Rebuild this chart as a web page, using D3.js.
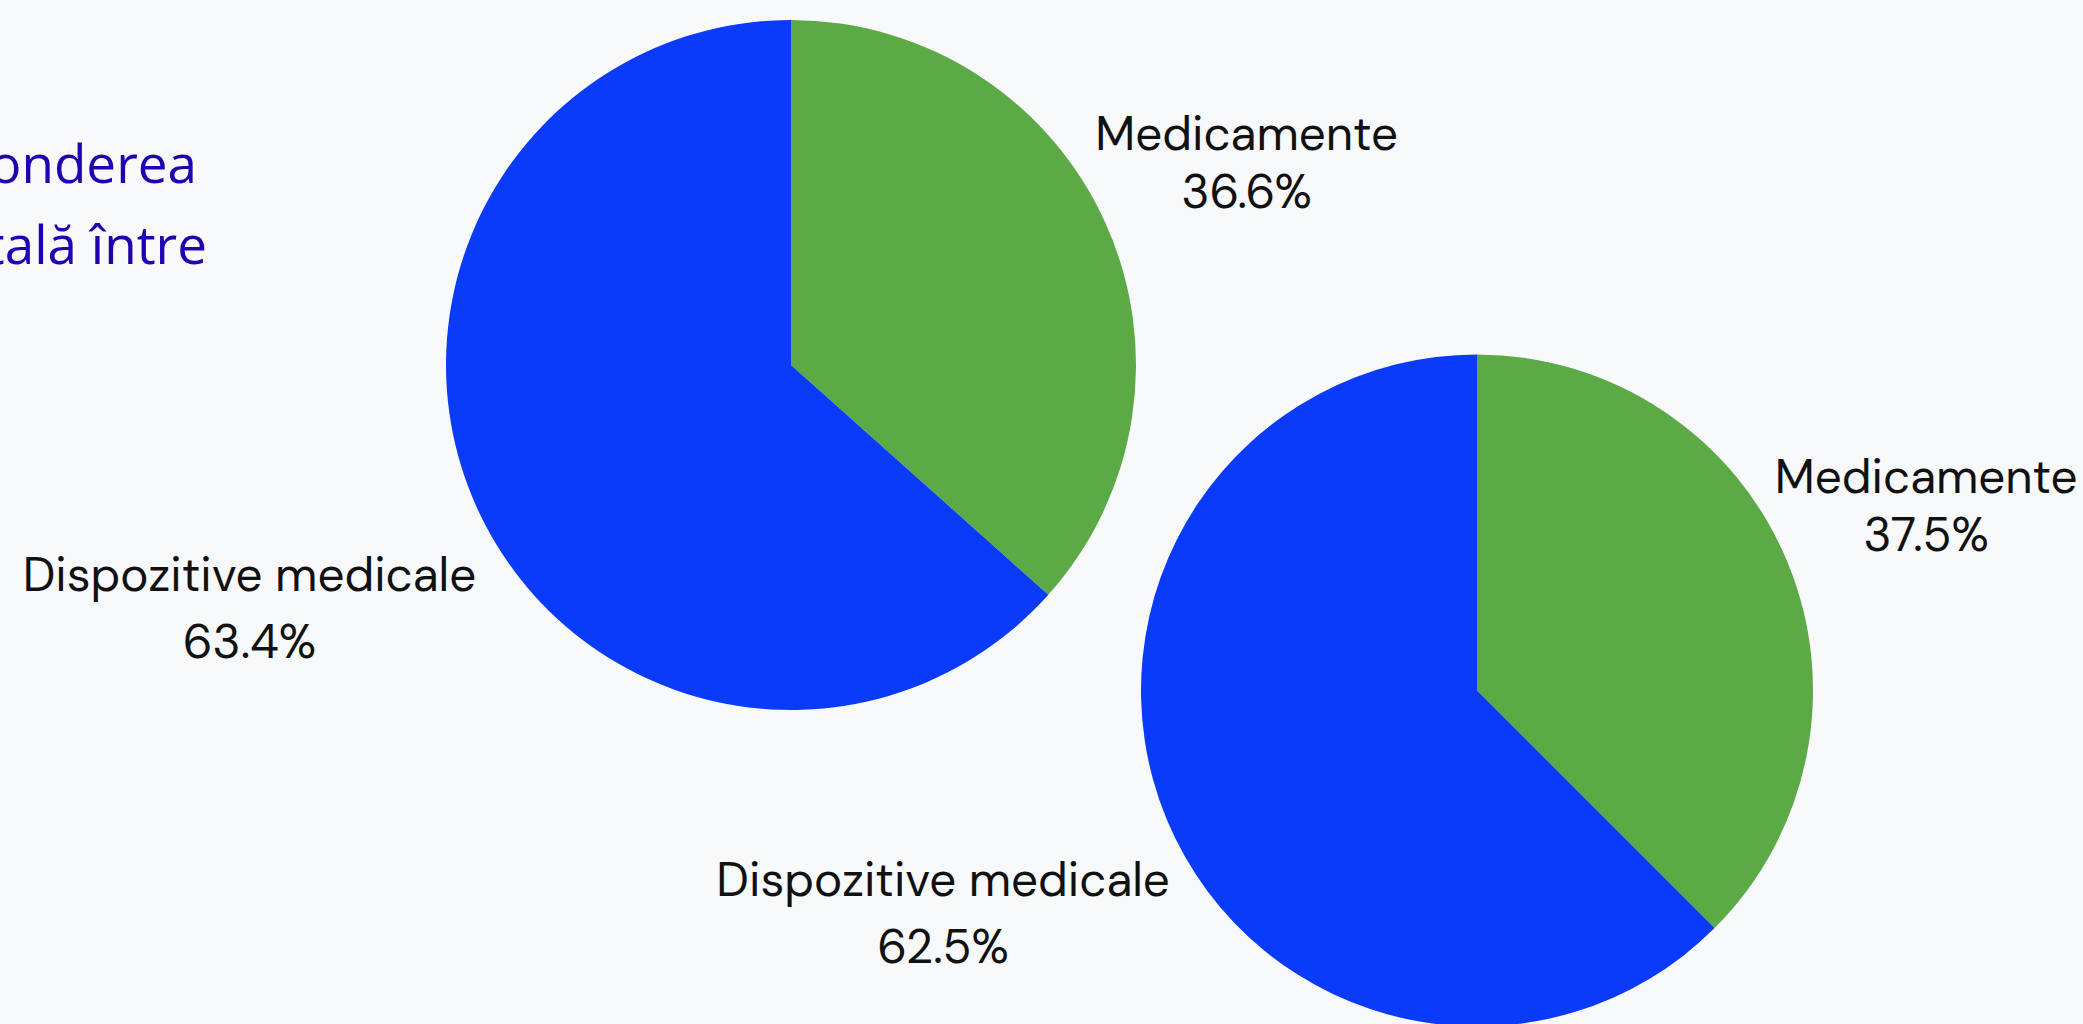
<!DOCTYPE html>
<html>
<head>
<meta charset="utf-8">
<script src="https://cdn.jsdelivr.net/npm/d3@7"></script>
<style>
  html, body { margin: 0; padding: 0; background: #f8f9fb; overflow: hidden; }
  svg { display: block; }
</style>
</head>
<body>
<svg id="chart" width="2083" height="1024"></svg>
<script>
// ---- data ----
const categories = ["Medicamente", "Dispozitive medicale"];
const pieA = [36.6, 63.4];
const pieB = [37.5, 62.5];
const titleLines = ["Ponderea", "totală între"];

// ---- layout / style ----
const W = 2083, H = 1024;
const colors = d3.scaleOrdinal().domain(categories).range(["#5caa46", "#0a3bfa"]);
const pies = [
  { values: pieA, cx: 791, cy: 365, r: 345 },
  { values: pieB, cx: 1477, cy: 690.5, r: 336 }
];
const labelFactor = { "Medicamente": 1.447, "Dispozitive medicale": 1.72 };
const lineOffsets = { "Medicamente": [-11, 47], "Dispozitive medicale": [-16, 51] };
const labelFont = "'DM Sans', Inter, 'Noto Sans', sans-serif";

const svg = d3.select("#chart");
svg.append("rect").attr("width", W).attr("height", H).attr("fill", "#f8f9fb");

// title (clipped at the left edge)
const titleG = svg.append("g")
  .attr("font-family", "'Open Sans', Lato, sans-serif")
  .attr("font-size", 53)
  .attr("fill", "#2000b0")
  .attr("text-anchor", "end");
titleG.append("text").attr("x", 197).attr("y", 183).text(titleLines[0]);
titleG.append("text").attr("x", 207).attr("y", 264).text(titleLines[1]);

const pieGen = d3.pie().sort(null).value(d => d.value);

pies.forEach(p => {
  const data = categories.map((c, i) => ({ name: c, value: p.values[i] }));
  const arcs = pieGen(data);
  const arc = d3.arc().innerRadius(0).outerRadius(p.r);
  const g = svg.append("g").attr("transform", `translate(${p.cx},${p.cy})`);
  g.selectAll("path").data(arcs).join("path")
    .attr("d", arc)
    .attr("fill", d => colors(d.data.name));

  const lab = g.selectAll("g.lab").data(arcs).join("g").attr("class", "lab")
    .attr("transform", d => {
      const k = labelFactor[d.data.name] * p.r;
      const la = d3.arc().innerRadius(k).outerRadius(k);
      const [x, y] = la.centroid(d);
      return `translate(${x},${y})`;
    })
    .attr("font-family", labelFont)
    .attr("font-size", 47.5)
    .attr("fill", "#111111")
    .attr("text-anchor", "middle");
  lab.append("text").attr("y", d => lineOffsets[d.data.name][0]).text(d => d.data.name);
  lab.append("text").attr("y", d => lineOffsets[d.data.name][1]).text(d => d.value.toFixed(1) + "%");
});
</script>
</body>
</html>
